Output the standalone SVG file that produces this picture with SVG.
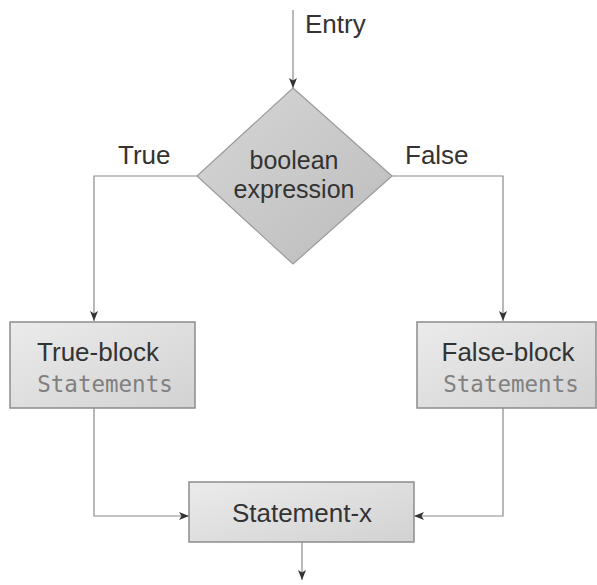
<svg xmlns="http://www.w3.org/2000/svg" width="597" height="585" viewBox="0 0 597 585">
<style>
.lbl{font-family:"Liberation Sans",Arial,sans-serif;font-size:26px;fill:#333}
.dia{font-size:25px}
.mono{font-family:"DejaVu Sans Mono","Liberation Mono",monospace;font-size:22.5px;fill:#808080}
.box{fill:url(#g);stroke:#8c8c8c;stroke-width:1.5}
.conn{fill:none;stroke:#8a8a8a;stroke-width:1.2}
</style>
<defs>
<linearGradient id="g" x1="0" y1="0" x2="1" y2="1">
<stop offset="0" stop-color="#ebebeb"/>
<stop offset="1" stop-color="#d2d2d2"/>
</linearGradient>
<linearGradient id="gd" x1="0" y1="0" x2="1" y2="1">
<stop offset="0" stop-color="#d6d6d6"/>
<stop offset="1" stop-color="#bcbcbc"/>
</linearGradient>
<marker id="arr" viewBox="0 0 10 8" refX="10" refY="4" markerWidth="10" markerHeight="8" markerUnits="userSpaceOnUse" orient="auto">
<path d="M0,0 L10,4 L0,8 L2.5,4 Z" fill="#333"/>
</marker>
</defs>
<rect width="597" height="585" fill="#fff"/>
<g id="connectors">
<path class="conn" d="M293,10 V88" marker-end="url(#arr)"/>
<path class="conn" d="M197,176 H94 V321" marker-end="url(#arr)"/>
<path class="conn" d="M392,176 H503 V321" marker-end="url(#arr)"/>
<path class="conn" d="M94,408 V516 H189" marker-end="url(#arr)"/>
<path class="conn" d="M503,408 V516 H414" marker-end="url(#arr)"/>
<path class="conn" d="M302,542 V580" marker-end="url(#arr)"/>
<text class="lbl" x="305" y="33">Entry</text>
<text class="lbl" x="118" y="164">True</text>
<text class="lbl" x="405" y="164">False</text>
</g>
<g id="decision">
<polygon points="293,88 392,176 293,264 197,176" fill="url(#gd)" stroke="#9a9a9a" stroke-width="1.2"/>
<text class="lbl dia" x="294" y="169" text-anchor="middle">boolean</text>
<text class="lbl dia" x="294" y="198" text-anchor="middle">expression</text>
</g>
<g id="true-block">
<rect class="box" x="10" y="322" width="185" height="86"/>
<text class="lbl" x="98" y="361" text-anchor="middle">True-block</text>
<text class="mono" x="105" y="392" text-anchor="middle">Statements</text>
</g>
<g id="false-block">
<rect class="box" x="417" y="322" width="179" height="86"/>
<text class="lbl" x="508" y="361" text-anchor="middle">False-block</text>
<text class="mono" x="511" y="392" text-anchor="middle">Statements</text>
</g>
<g id="statement-x">
<rect class="box" x="189" y="482" width="225" height="60"/>
<text class="lbl" x="302" y="522" text-anchor="middle">Statement-x</text>
</g>
</svg>
